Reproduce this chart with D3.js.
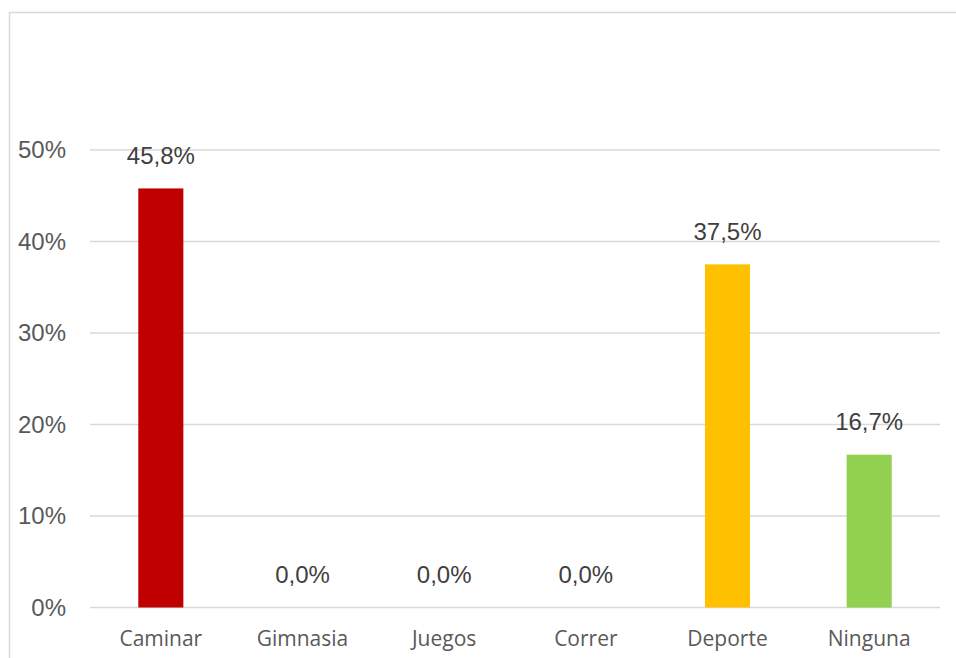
<!DOCTYPE html>
<html>
<head>
<meta charset="utf-8">
<script src="https://cdn.jsdelivr.net/npm/d3@7"></script>
<style>
  body { margin: 0; background: #fff; }
  svg { display: block; }
</style>
</head>
<body>
<svg id="chart" width="956" height="658"></svg>
<script>
// data
const categories = ["Caminar", "Gimnasia", "Juegos", "Correr", "Deporte", "Ninguna"];
const values = [45.8, 0.0, 0.0, 0.0, 37.5, 16.7];
const barColors = ["#c00000", "#c00000", "#c00000", "#c00000", "#ffc000", "#92d050"];
const yTicks = [0, 10, 20, 30, 40, 50];

const svg = d3.select("#chart");
const margin = { left: 90, right: 16, top: 150, bottom: 50.5 };
const width = +svg.attr("width");
const height = +svg.attr("height");

// outer frame, runs off the right and bottom edge
svg.append("rect")
  .attr("x", 9.5).attr("y", 12.5)
  .attr("width", 1000).attr("height", 1000)
  .attr("fill", "none")
  .attr("stroke", "#d9d9d9")
  .attr("stroke-width", 1.5);

const x = d3.scaleBand()
  .domain(categories)
  .range([margin.left, width - margin.right])
  .paddingInner(0.682)
  .paddingOuter(0.341);

const y = d3.scaleLinear()
  .domain([0, 50])
  .range([height - margin.bottom, margin.top]);

// gridlines
svg.append("g").selectAll("line").data(yTicks)
  .enter().append("line")
    .attr("x1", margin.left)
    .attr("x2", width - margin.right)
    .attr("y1", d => y(d))
    .attr("y2", d => y(d))
    .attr("stroke", "#d9d9d9")
    .attr("stroke-width", 1.3);

// y tick labels
svg.append("g").selectAll("text").data(yTicks)
  .enter().append("text")
    .text(d => d + "%")
    .attr("x", 66)
    .attr("y", d => y(d))
    .attr("dy", "0.35em")
    .style("text-anchor", "end")
    .style("fill", "#595959")
    .style("font-family", "Liberation Sans, Arial, sans-serif")
    .style("font-size", "24px");

// bars
svg.append("g").selectAll("rect").data(values)
  .enter().append("rect")
    .attr("x", (d, i) => x(categories[i]))
    .attr("y", d => y(d))
    .attr("width", x.bandwidth())
    .attr("height", d => y(0) - y(d))
    .attr("fill", (d, i) => barColors[i]);

// value labels
svg.append("g").selectAll("text").data(values)
  .enter().append("text")
    .text(d => d.toFixed(1).replace(".", ",") + "%")
    .attr("x", (d, i) => x(categories[i]) + x.bandwidth() / 2)
    .attr("y", d => y(d) - 24.5)
    .style("text-anchor", "middle")
    .style("fill", "#404040")
    .style("font-family", "Liberation Sans, Arial, sans-serif")
    .style("font-size", "24px");

// category labels
svg.append("g").selectAll("text").data(categories)
  .enter().append("text")
    .text(d => d)
    .attr("x", d => x(d) + x.bandwidth() / 2)
    .attr("y", 646)
    .style("text-anchor", "middle")
    .style("fill", "#595959")
    .style("font-family", "Open Sans, sans-serif")
    .style("font-size", "21px");
</script>
</body>
</html>
